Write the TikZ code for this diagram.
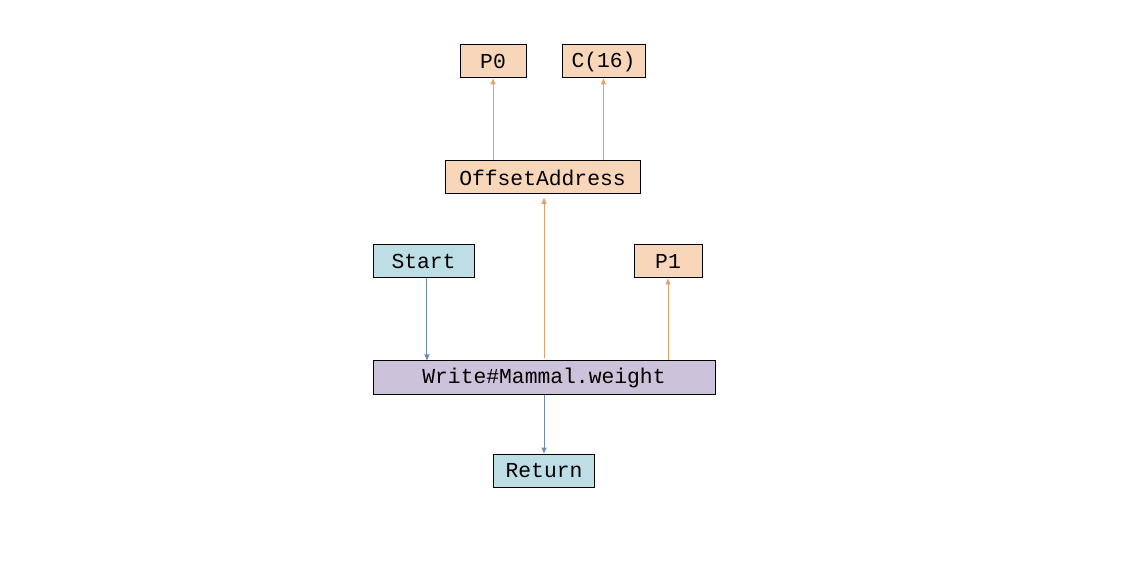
\documentclass[tikz,border=0pt]{standalone}
\usepackage{fontspec}
\setmonofont{Liberation Mono}
\usetikzlibrary{arrows.meta}

\definecolor{peach}{RGB}{248,214,186}
\definecolor{paleblue}{RGB}{190,222,230}
\definecolor{lilac}{RGB}{204,194,218}
\definecolor{orangeline}{RGB}{226,160,108}
\definecolor{blueline}{RGB}{108,140,186}

\tikzset{
  box/.style = {draw, line width=0.75pt, minimum height=24.75pt, inner sep=0pt,
    font=\ttfamily\fontsize{16}{19}\selectfont},
  operand/.style = {box, fill=peach},
  control/.style = {box, fill=paleblue},
  method/.style = {box, fill=lilac},
  dataflow/.style = {draw=orangeline, line width=0.75pt,
    -{Triangle[length=4.5pt, width=3.75pt]}},
  ctrlflow/.style = {draw=blueline, line width=0.75pt,
    -{Triangle[length=4.5pt, width=3.75pt]}}
}

\begin{document}
\begin{tikzpicture}[x=0.75pt, y=-0.75pt]
    \useasboundingbox (0, 0) rectangle (1144, 580);

    \node[operand, minimum width=49.5pt] (p0) at (493, 61.5) {P0};
    \node[operand, minimum width=62.25pt] (c16) at (603.5, 61.5) {C(16)};
    \node[operand, minimum width=146.25pt] (offset) at (542.5, 177.5) {OffsetAddress};

    \node[control, minimum width=75.75pt] (start) at (423.5, 261.5) {Start};
    \node[operand, minimum width=51pt] (p1) at (668, 261.5) {P1};

    \node[method, minimum width=256.5pt] (write) at (544, 377.5) {Write\#Mammal.weight};
    \node[control, minimum width=75.75pt] (return) at (544, 470.5) {Return};

    \draw[ctrlflow] ([xshift=2.6pt]start.south) -- ([xshift=2.6pt]start.south |- write.north);
    \draw[ctrlflow] (write.south) -- (return.north);

    \draw[dataflow, shorten >=2.5pt] ([yshift=2pt]write.north) -- (write.north |- offset.south);
    \draw[dataflow] (write.north -| p1.south) -- (p1.south);
    \draw[dataflow] (offset.north -| p0.south) -- (p0.south);
    \draw[dataflow] (offset.north -| c16.south) -- (c16.south);

  \end{tikzpicture}
\end{document}
